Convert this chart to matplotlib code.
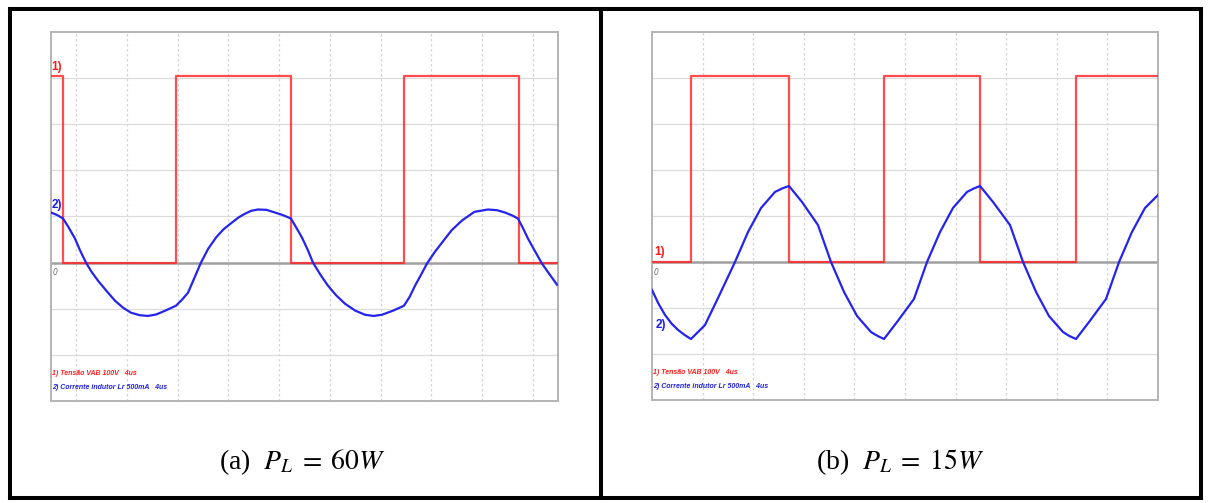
import matplotlib.pyplot as plt
from matplotlib.lines import Line2D

# scope scales: 100 V/div, 500 mA/div, 4 us/div
volt_div = 100.0
amp_div = 0.5

# (a) PL = 60W  -- square wave edges (time us, level V)
a_edge_t = [0, 0.95, 9.86, 18.93, 27.85, 36.92, 40]
a_edge_v = [405, 0, 405, 0, 405, 0, 0]

# (a) inductor current (time us, current A)
a_t = [0.0, 0.5, 0.95, 1.4, 1.89, 2.3, 2.76, 3.2, 3.71, 4.4, 5.05, 5.7, 6.31, 7.0,
       7.65, 8.3, 8.99, 9.86, 10.35, 10.81, 11.3, 11.83, 12.4, 13.02, 13.6, 14.28,
       14.8, 15.3, 15.8, 16.33, 17.0, 17.67, 18.3, 18.93, 19.35, 19.80, 20.25, 20.67,
       21.25, 21.85, 22.5, 23.2, 24.0, 24.77, 25.45, 26.11, 27.0, 27.85, 28.3, 28.72,
       29.2, 29.66, 30.25, 30.85, 31.6, 32.43, 33.4, 34.48, 35.2, 35.82, 36.4, 36.84,
       37.25, 37.63, 38.2, 38.74, 39.3, 39.92]
a_i = [0.543, 0.515, 0.478, 0.38, 0.261, 0.13, 0.0, -0.10, -0.196, -0.31, -0.413,
       -0.49, -0.543, -0.570, -0.578, -0.562, -0.522, -0.467, -0.40, -0.326, -0.17,
       0.0, 0.15, 0.272, 0.36, 0.435, 0.49, 0.53, 0.562, 0.576, 0.572, 0.543, 0.515,
       0.478, 0.38, 0.272, 0.14, 0.0, -0.13, -0.25, -0.355, -0.446, -0.52, -0.565,
       -0.578, -0.565, -0.52, -0.467, -0.37, -0.25, -0.13, -0.011, 0.11, 0.217, 0.35,
       0.457, 0.55, 0.576, 0.568, 0.543, 0.51, 0.478, 0.37, 0.261, 0.12, -0.011,
       -0.12, -0.239]

# (b) PL = 15W
b_edge_t = [0, 3.08, 10.83, 18.34, 25.93, 33.52, 40]
b_edge_v = [0, 405, 0, 405, 0, 405, 405]

b_t = [0.0, 0.5, 1.03, 1.55, 2.06, 2.6, 3.08, 4.19, 5.22, 6.56, 7.59, 8.62, 9.72,
       10.3, 10.83, 11.86, 13.12, 14.15, 15.18, 16.21, 17.31, 17.85, 18.34, 19.37,
       20.71, 21.74, 22.77, 23.79, 24.90, 25.45, 25.93, 26.96, 28.30, 29.33, 30.36,
       31.38, 32.49, 33.0, 33.52, 34.55, 35.89, 36.92, 37.94, 38.97, 40.0]
b_i = [-0.304, -0.45, -0.576, -0.67, -0.739, -0.795, -0.837, -0.685, -0.391, 0.0,
       0.326, 0.587, 0.761, 0.80, 0.826, 0.652, 0.402, 0.0, -0.326, -0.587, -0.761,
       -0.805, -0.837, -0.652, -0.402, 0.0, 0.326, 0.587, 0.761, 0.80, 0.826, 0.652,
       0.402, 0.0, -0.326, -0.587, -0.761, -0.805, -0.837, -0.652, -0.402, 0.0,
       0.326, 0.587, 0.728]

W, H = 1208, 503


def fx(x):
    return x / W


def fy(y):
    return 1 - y / H


def scope(ax, edge_t, edge_v, t, i, vgrid, lab1, lab2):
    ax.set_xlim(0, 40)
    ax.set_ylim(-3, 5)
    ax.set_xticks([])
    ax.set_yticks([])
    for s in ax.spines.values():
        s.set_color("#b4b4b4")
        s.set_linewidth(1.4)
    for g in vgrid:
        ax.axvline(g, color="#d4d4d4", lw=0.9, ls=(0, (2, 2)), zorder=1)
    for g in [-2, -1, 1, 2, 3, 4]:
        ax.axhline(g, color="#dcdcdc", lw=0.9, zorder=1)
    ax.axhline(0, color="#a0a0a0", lw=1.8, zorder=2)
    ax.step(edge_t, [v / volt_div for v in edge_v], where="post",
            color="#ff2020", alpha=0.8, lw=1.6, zorder=3)
    ax.plot(t, [c / amp_div for c in i], color="#2424ee", lw=1.6, zorder=4)
    ax.text(0.13, -0.12, "0", color="#707070", fontsize=5.5, style="italic",
            ha="left", va="top", zorder=5)
    ax.text(lab1[0], lab1[1], "1)", color="#ff1a1a", fontsize=8.5, fontweight="bold",
            family="Liberation Sans", ha="left", va="bottom", zorder=5)
    ax.text(lab2[0], lab2[1], "2)", color="#1a1aee", fontsize=8.5, fontweight="bold",
            family="Liberation Sans", ha="left", va="bottom", zorder=5)
    ax.text(0.1, -2.4, "1) Tensão VAB 100V   4us", color="#ff2020", fontsize=5.0,
            style="italic", fontweight="bold", family="Liberation Sans",
            ha="left", va="center")
    ax.text(0.1, -2.7, "2) Corrente indutor Lr 500mA   4us", color="#2020dd",
            fontsize=5.0, style="italic", fontweight="bold", family="Liberation Sans",
            ha="left", va="center")


plt.rcParams["mathtext.fontset"] = "stix"

fig = plt.figure(figsize=(W / 100, H / 100), dpi=100)

ax1 = fig.add_axes([fx(51), fy(401), fx(507), 369 / H])
scope(ax1, a_edge_t, a_edge_v, a_t, a_i, [2 + 4 * k for k in range(10)],
      (0.05, 4.12), (0.05, 1.13))

ax2 = fig.add_axes([fx(652), fy(400), fx(506), 368 / H])
scope(ax2, b_edge_t, b_edge_v, b_t, b_i, [4 * k for k in range(1, 10)],
      (0.15, 0.08), (0.3, -1.5))

# table borders
lw = 2.9
for xs, ys in [([10, 10], [9, 498]), ([1201, 1201], [9, 498]), ([601, 601], [9, 498]),
               ([10, 1201], [9, 9]), ([10, 1201], [498, 498])]:
    fig.add_artist(Line2D([fx(x) for x in xs], [fy(y) for y in ys], color="black",
                          lw=lw, solid_capstyle="projecting"))

fig.text(fx(302), fy(462), r"(a)  $P_L\;=\;60W$", fontsize=20, family="Liberation Serif",
         ha="center", va="center")
fig.text(fx(900), fy(462), r"(b)  $P_L\;=\;15W$", fontsize=20, family="Liberation Serif",
         ha="center", va="center")

fig.savefig("out.png", dpi=100)
